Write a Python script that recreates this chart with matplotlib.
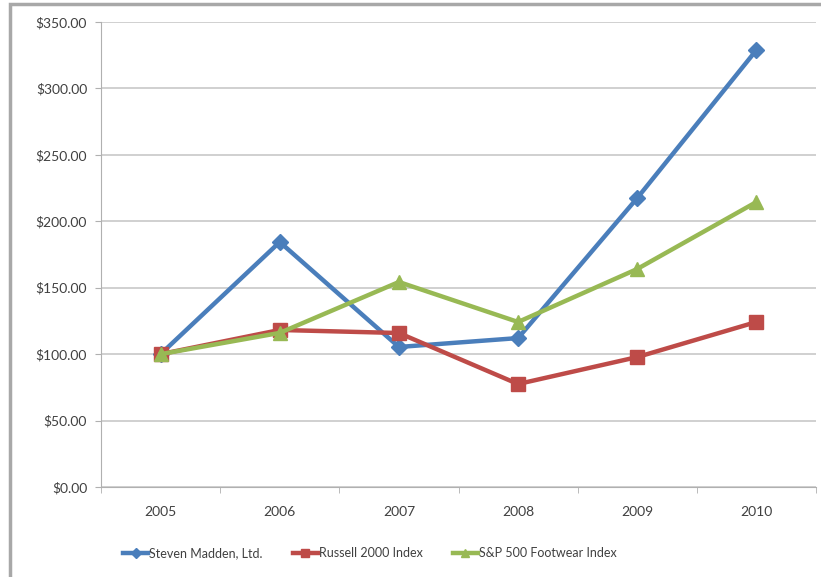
import matplotlib.pyplot as plt
from matplotlib.patches import Rectangle

# Datos
years = ['2005', '2006', '2007', '2008', '2009', '2010']
madden = [100, 184.4, 105.4, 112.1, 217.5, 328.9]
russell = [100, 118.2, 115.9, 77.5, 97.8, 124.2]
footwear = [100, 116.0, 154.3, 124.2, 164.1, 214.5]
yticks = [0, 50, 100, 150, 200, 250, 300, 350]

plt.rcParams['font.family'] = ['Lato', 'DejaVu Sans']

fig = plt.figure(figsize=(8.21, 5.77), dpi=100)
ax = fig.add_axes([101 / 821, 90 / 577, 715 / 821, 465 / 577])

x = list(range(len(years)))
ax.plot(x, madden, color='#4A7EBB', lw=3.2, marker='D', ms=8.5, label='Steven Madden, Ltd.', zorder=3)
ax.plot(x, russell, color='#BE4B48', lw=3.2, marker='s', ms=9.5, label='Russell 2000 Index', zorder=4)
ax.plot(x, footwear, color='#98B954', lw=3.2, marker='^', ms=10, label='S&P 500 Footwear Index', zorder=5)

ax.set_xlim(-0.5, 5.5)
ax.set_ylim(0, 350)
ax.set_yticks(yticks)
ax.set_yticklabels(['${:.2f}'.format(v) for v in yticks])
ax.set_xticks(x)
ax.set_xticklabels(years)
ax.set_xticks([i - 0.5 for i in range(len(years) + 1)], minor=True)
ax.tick_params(axis='x', which='major', length=0, pad=14)
ax.tick_params(axis='x', which='minor', length=4, color='#B0B0B0')
ax.tick_params(axis='y', length=4, color='#B0B0B0', pad=6)
ax.tick_params(labelsize=10, labelcolor='#404040')

ax.grid(axis='y', color='#C8C8C8', lw=1.2)
ax.set_axisbelow(True)
for s in ['top', 'right']:
    ax.spines[s].set_visible(False)
ax.spines['left'].set_color('#B0B0B0')
ax.spines['bottom'].set_color('#B0B0B0')

leg = fig.legend(*ax.get_legend_handles_labels(), loc='center',
                 bbox_to_anchor=(370 / 821, 1 - 553 / 577), ncol=3, frameon=False,
                 fontsize=9.0, handlelength=2.0, handletextpad=0.1,
                 columnspacing=2.4, markerscale=0.55)
for t in leg.get_texts():
    t.set_color('#404040')

# Marco
fig.patches.append(Rectangle((10 / 821, -0.05), 1.1, 1.05 - 4 / 577,
                             transform=fig.transFigure, fill=False,
                             edgecolor='#A8A8A8', lw=2.5))

plt.savefig('out.png', dpi=100)
